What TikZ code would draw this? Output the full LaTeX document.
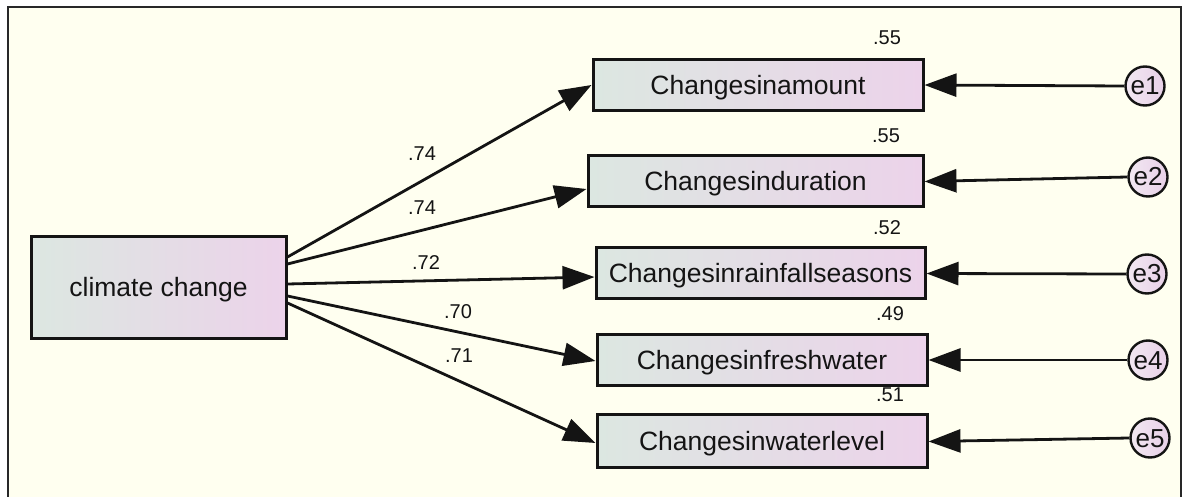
\documentclass[tikz,border=0pt]{standalone}
\usepackage{fontspec}
\setmainfont{Liberation Sans}
\usetikzlibrary{arrows.meta}

\definecolor{paper}{RGB}{255,255,240}
\definecolor{frameline}{RGB}{40,40,40}
\definecolor{ink}{RGB}{20,20,20}
\definecolor{boxleft}{RGB}{220,231,225}
\definecolor{boxright}{RGB}{236,211,234}
\definecolor{errleft}{RGB}{242,232,242}
\definecolor{errright}{RGB}{232,208,232}

\tikzset{
  obsbox/.style={draw=ink, line width=3pt, left color=boxleft, right color=boxright,
    shading angle=90, inner sep=0pt, minimum height=51pt, text=ink,
    text height=19pt, text depth=0pt,
    font=\fontsize{26.5}{30}\selectfont},
  errcirc/.style={circle, draw=ink, line width=2.4pt, left color=errleft, right color=errright,
    inner sep=0pt, minimum size=39pt, text=ink, text height=18pt, text depth=0pt,
    font=\fontsize{26}{28}\selectfont},
  coef/.style={text=ink, inner sep=0pt, font=\fontsize{20}{22}\selectfont},
  path/.style={draw=ink, line width=2.8pt, -{Triangle[length=32pt,width=23pt]}},
}

\begin{document}
\begin{tikzpicture}[x=1pt,y=-1pt]
  % page and frame
  \useasboundingbox (0,0) rectangle (1184,497);
  \fill[white] (0,0) rectangle (1184,497);
  \filldraw[fill=paper, draw=frameline, line width=2pt] (8,7) rectangle (1181,520);

  % exogenous variable
  \node[obsbox, minimum width=255pt, minimum height=101pt] (cc) at (158.5,287.5) {climate change};

  % indicator boxes
  \node[obsbox, minimum width=330pt] (b1) at (758,85) {Changesinamount};
  \node[obsbox, minimum width=335pt] (b2) at (755.5,181.5) {Changesinduration};
  \node[obsbox, minimum width=329pt] (b3) at (760.5,273.5) {Changesinrainfallseasons};
  \node[obsbox, minimum width=330pt] (b4) at (762,360) {Changesinfreshwater};
  \node[obsbox, minimum width=330pt, minimum height=53pt] (b5) at (762,440.5) {Changesinwaterlevel};

  % error terms
  \node[errcirc] (e1) at (1145,86) {e1};
  \node[errcirc] (e2) at (1148,177) {e2};
  \node[errcirc] (e3) at (1147,274) {e3};
  \node[errcirc] (e4) at (1148,360) {e4};
  \node[errcirc] (e5) at (1150,438) {e5};

  % loadings
  \draw[path] ([yshift=30.5pt]cc.east) -- (b1.west);
  \draw[path] ([yshift=23.5pt]cc.east) -- ([yshift=-7.5pt]b2.west);
  \draw[path] ([yshift=3.5pt]cc.east) -- ([yshift=-3.5pt]b3.west);
  \draw[path] ([yshift=-8.5pt]cc.east) -- ([yshift=-1pt]b4.west);
  \draw[path] ([yshift=-15.5pt]cc.east) -- ([yshift=-2.5pt]b5.west);

  % error paths
  \draw[path] (e1.west) -- (b1.east);
  \draw[path] (e2.west) -- (b2.east);
  \draw[path] (e3.west) -- (b3.east);
  \draw[path] (e4.west) -- (b4.east);
  \draw[path] (e5.west) -- ([yshift=-1pt]b5.east);

  % standardized loadings
  \node[coef] (l1) at (422,154) {.74};
  \node[coef] (l2) at (422,208) {.74};
  \node[coef] (l3) at (426,263) {.72};
  \node[coef] (l4) at (458,312) {.70};
  \node[coef] (l5) at (459,356) {.71};

  % squared multiple correlations
  \node[coef] (r1) at (887,38) {.55};
  \node[coef] (r2) at (886,136) {.55};
  \node[coef] (r3) at (887,228) {.52};
  \node[coef] (r4) at (890,314) {.49};
  \node[coef] (r5) at (890,395) {.51};
\end{tikzpicture}
\end{document}
